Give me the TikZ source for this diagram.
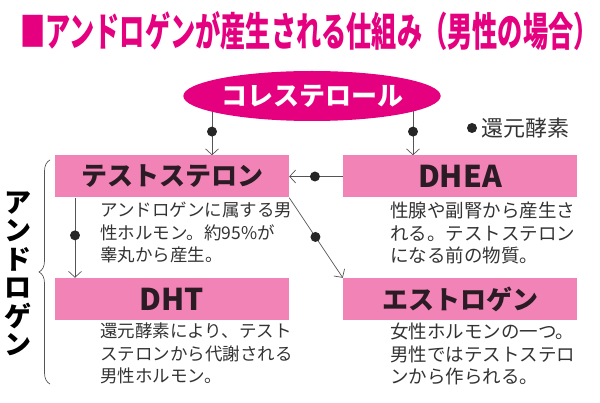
\documentclass[tikz,border=0pt]{standalone}
\usepackage{fontspec}
\setmainfont{Noto Sans CJK JP}
\usepackage{xcolor}
\usetikzlibrary{arrows.meta, positioning, shapes.geometric, backgrounds, decorations.pathreplacing}
\definecolor{titleMag}{HTML}{E4007F}
\definecolor{boxPink}{HTML}{F283B6}
\definecolor{inkDark}{HTML}{2B1B24}
\definecolor{lineGray}{HTML}{555555}
\tikzset{
    hormBox/.style={rectangle, fill=boxPink, minimum width=234pt, minimum height=42pt, inner sep=0pt,
        text=inkDark, font=\fontsize{26}{28}\selectfont\bfseries},
    latinBox/.style={hormBox, font=\fontsize{30}{30}\selectfont\bfseries},
    descText/.style={anchor=north west, inner sep=0pt, align=left, text=black!80},
    flowArrow/.style={-{Straight Barb[length=6pt, width=13pt]}, line width=0.7pt, draw=lineGray},
    dotMark/.style={circle, fill=black!85, inner sep=0pt, minimum size=10pt}
}

\begin{document}
\begin{tikzpicture}[x=1pt, y=-1pt]
    \useasboundingbox (0,0) rectangle (600,403);
    % --- title ---
    \node[anchor=west, inner sep=0pt, text=titleMag] (title) at (20,31)
        {\scalebox{0.63}[1]{\fontsize{40}{42}\selectfont\bfseries ■アンドロゲンが産生される仕組み（男性の場合）}};
    % --- cholesterol + legend ---
    \node[ellipse, fill=titleMag, minimum width=225pt, minimum height=50pt, inner sep=0pt,
        text=white, font=\fontsize{26}{28}\selectfont\bfseries] (chol) at (312,96) {コレステロール};
    \node[dotMark] (legDot) at (472,128) {};
    \node[anchor=west, inner sep=0pt, text=black!80, font=\fontsize{22}{24}\selectfont] (legend) at (481,128) {還元酵素};
    % --- hormone boxes ---
    \node[hormBox] (tes) at (172,176.5) {テストステロン};
    \node[latinBox] (dhea) at (460,176.5) {DHEA};
    \node[latinBox] (dht) at (172,299) {DHT};
    \node[hormBox] (est) at (460,299) {エストロゲン};
    % --- descriptions ---
    \node[descText, font=\fontsize{17.5}{22.5}\selectfont] (tesTxt) at (100,202)
        {アンドロゲンに属する男\\性ホルモン。約95\%が\\睾丸から産生。};
    \node[descText, font=\fontsize{18.5}{22.5}\selectfont] (dheaTxt) at (390,202)
        {性腺や副腎から産生さ\\れる。テストステロン\\になる前の物質。};
    \node[descText, font=\fontsize{17.5}{22.5}\selectfont] (dhtTxt) at (100,323)
        {還元酵素により、テスト\\ステロンから代謝される\\男性ホルモン。};
    \node[descText, font=\fontsize{18.5}{22.5}\selectfont] (estTxt) at (390,323)
        {女性ホルモンの一つ。\\男性ではテストステロ\\ンから作られる。};
    % --- connectors ---
    \coordinate (cL) at (212,0); \coordinate (cR) at (413,0); \coordinate (dL) at (75,0);
    \begin{scope}[on background layer]
        \draw[flowArrow] (cL |- chol.center) -- (cL |- tes.north) node[dotMark, pos=0.6]{};
        \draw[flowArrow] (cR |- chol.center) -- (cR |- dhea.north) node[dotMark, pos=0.6]{};
    \end{scope}
    \draw[flowArrow] (dhea.west) -- (tes.east) node[dotMark, pos=0.52]{};
    \draw[flowArrow] (dL |- tes.south) -- (dL |- dht.north) node[dotMark, pos=0.47]{};
    \draw[flowArrow] (tes.south east) -- (est.north west) node[dotMark, pos=0.49]{};
    % --- androgen brace ---
    \draw[lineGray, line width=0.7pt, decorate, decoration={brace, amplitude=11pt}] (50,384) -- (50,160);
    \node[inner sep=0pt, align=center, text=black, font=\fontsize{27}{28.5}\selectfont\bfseries] (andro) at (18,274)
        {ア\\ン\\ド\\ロ\\ゲ\\ン};
\end{tikzpicture}
\end{document}
